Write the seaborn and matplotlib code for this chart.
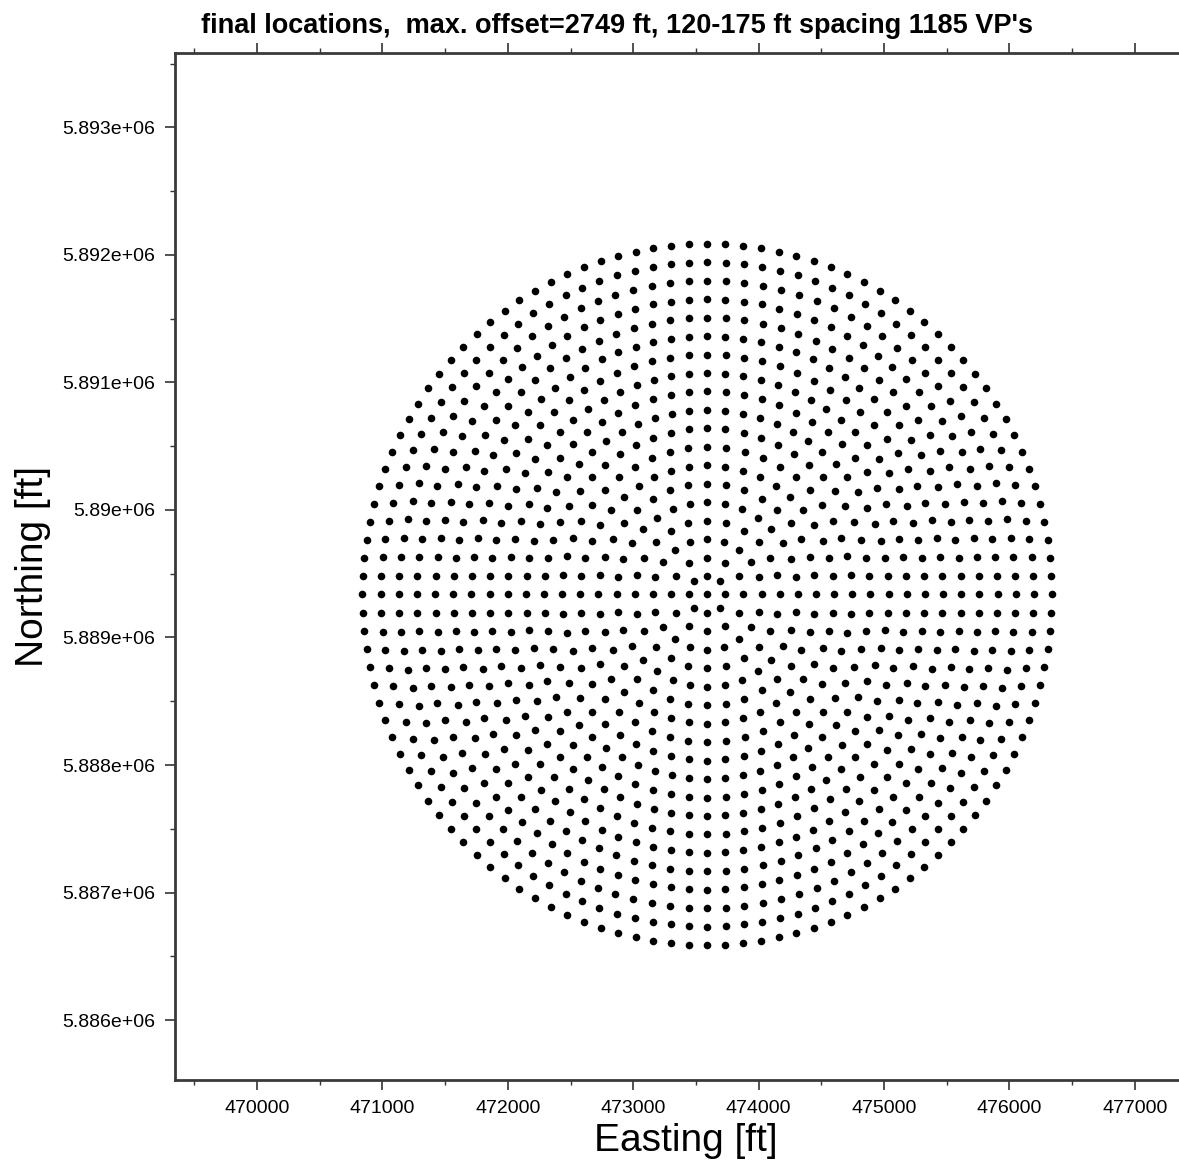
import numpy as np
import pandas as pd
import seaborn as sns
import matplotlib.pyplot as plt
from matplotlib.ticker import MultipleLocator, FormatStrFormatter

# survey centre and ring layout
center_e = 473590
center_n = 5889337
ring_radius_ft = [145, 289, 434, 579, 723, 868, 1013, 1158, 1302, 1447,
                  1592, 1736, 1881, 2026, 2170, 2315, 2460, 2604, 2749]
ring_points = [8, 12, 20, 24, 32, 36, 44, 48, 56, 64,
               68, 76, 80, 88, 92, 100, 104, 112, 120]

# build VP locations: one in the centre, then evenly spaced on each ring
east = [center_e]
north = [center_n]
for r, n in zip(ring_radius_ft, ring_points):
    ang = np.arange(n) * 2 * np.pi / n
    east.extend(center_e + r * np.cos(ang))
    north.extend(center_n + r * np.sin(ang))
df = pd.DataFrame({'easting': east, 'northing': north})

sns.set_style('white')
plt.rcParams['font.family'] = ['Liberation Sans', 'DejaVu Sans']

fig = plt.figure(figsize=(11.79, 11.70), dpi=100)
ax = fig.add_axes([0.14843, 0.07692, 0.8673, 0.87778])

sns.scatterplot(data=df, x='easting', y='northing', ax=ax, color='black',
                s=30, linewidth=0, legend=False)

ax.set_xlim(469346, 477500)
ax.set_ylim(5885530, 5893583)

ax.xaxis.set_major_locator(MultipleLocator(1000))
ax.xaxis.set_minor_locator(MultipleLocator(500))
ax.yaxis.set_major_locator(MultipleLocator(1000))
ax.yaxis.set_minor_locator(MultipleLocator(500))
ax.xaxis.set_major_formatter(FormatStrFormatter('%g'))
ax.yaxis.set_major_formatter(FormatStrFormatter('%g'))

ax.tick_params(which='both', direction='out', top=True, bottom=True,
               left=True, right=False, labeltop=False, colors='#333333',
               labelcolor='black', labelsize=14)
ax.tick_params(which='major', length=7.5, width=1.2, pad=7)
ax.tick_params(which='minor', length=3.5, width=1)

for side in ['left', 'bottom', 'top', 'right']:
    ax.spines[side].set_linewidth(2)
    ax.spines[side].set_color('#3a3a3a')

ax.set_xlabel('Easting [ft]', fontsize=28, labelpad=4, color='black')
ax.set_ylabel('Northing [ft]', fontsize=28, labelpad=8, color='black')
fig.text(0.523, 0.978, "final locations,  max. offset=2749 ft, 120-175 ft spacing 1185 VP's",
         ha='center', va='center', fontsize=19.5, fontweight='bold', color='black')

fig.savefig('out.png', dpi=100)
